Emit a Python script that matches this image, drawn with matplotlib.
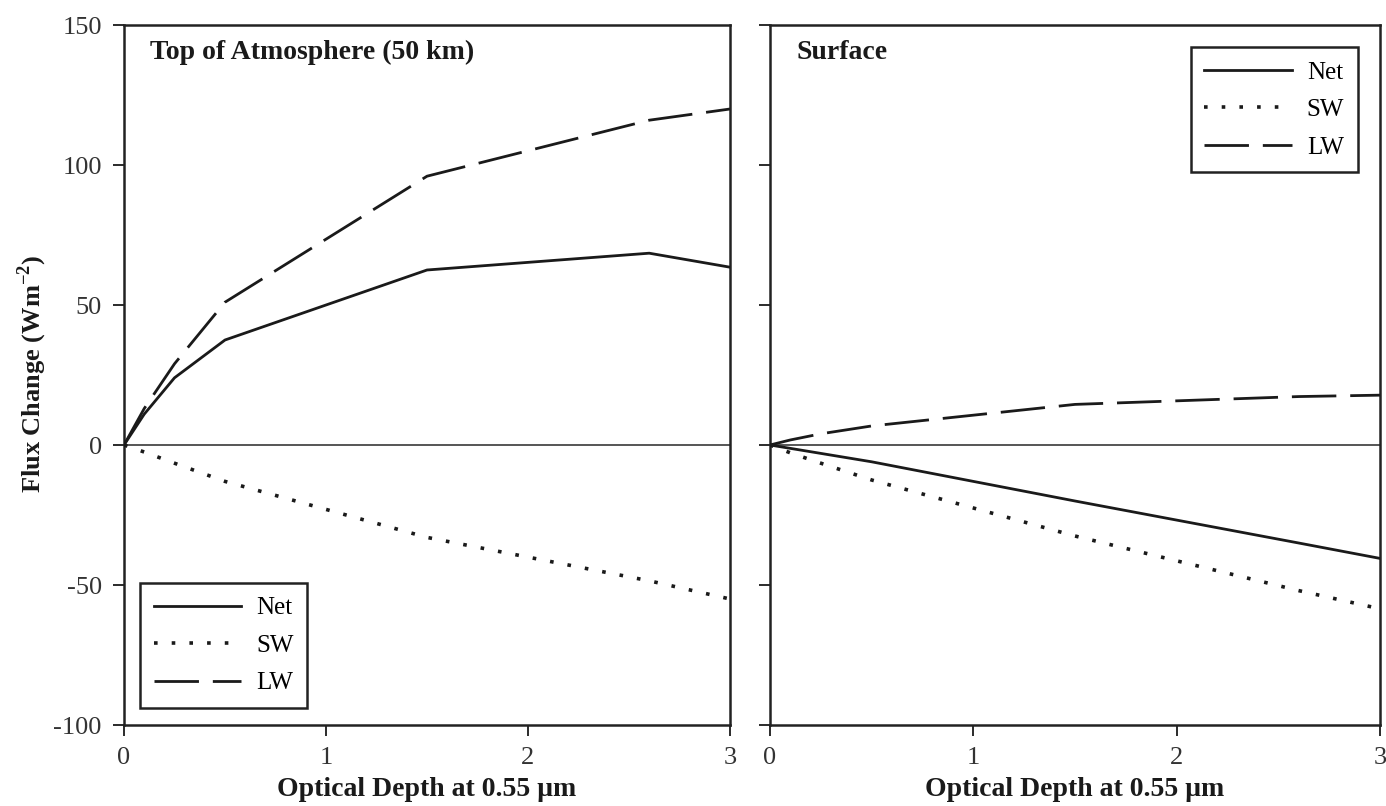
import matplotlib
matplotlib.use("Agg")
import matplotlib.pyplot as plt

plt.rcParams['font.family'] = ['Liberation Serif', 'DejaVu Serif']
plt.rcParams['mathtext.fontset'] = 'custom'
plt.rcParams['mathtext.rm'] = 'Liberation Serif:bold'
plt.rcParams['mathtext.bf'] = 'Liberation Serif:bold'
plt.rcParams['axes.unicode_minus'] = False

# Optical depth at 0.55 um
tau = [0, 0.1, 0.25, 0.5, 1.5, 2.6, 3.0]

# Top of atmosphere (50 km) flux changes (W m-2)
toa_net = [0, 11, 24, 37.5, 62.5, 68.5, 63.5]
toa_sw = [0, -2.5, -6.5, -13, -33, -48.5, -55]
toa_lw = [0, 13, 29, 51, 96, 116, 120]

# Surface flux changes (W m-2)
sfc_net = [0, -1.2, -3, -6, -20, -35, -40.5]
sfc_sw = [0, -2.8, -6.5, -12.5, -32.5, -52, -58.5]
sfc_lw = [0, 1.8, 4, 6.8, 14.5, 17.3, 17.8]

series_labels = ['Net', 'SW', 'LW']
panel_titles = ['Top of Atmosphere (50 km)', 'Surface']
xticks = [0, 1, 2, 3]
yticks = [-100, -50, 0, 50, 100, 150]

W, H = 1386, 806
fig = plt.figure(figsize=(W / 100, H / 100), dpi=100)
ink = '#1a1a1a'

ax1 = fig.add_axes([124 / W, 1 - 725 / H, 606 / W, 700 / H])
ax2 = fig.add_axes([770 / W, 1 - 725 / H, 610 / W, 700 / H])

styles = [dict(ls='-', lw=2.0),
          dict(ls=(0, (1.0, 3.9)), lw=2.6, dash_capstyle='butt'),
          dict(ls=(0, (16, 5)), lw=2.0)]

for ax, data, title, show_labels in [
        (ax1, (toa_net, toa_sw, toa_lw), panel_titles[0], True),
        (ax2, (sfc_net, sfc_sw, sfc_lw), panel_titles[1], False)]:
    ax.axhline(0, color='#555555', lw=1.4, zorder=1)
    for y, lab, st in zip(data, series_labels, styles):
        ax.plot(tau, y, color=ink, label=lab, **st, zorder=3)
    ax.set_xlim(0, 3)
    ax.set_ylim(-100, 150)
    ax.set_xticks(xticks)
    ax.set_yticks(yticks)
    ax.tick_params(direction='out', length=8, width=1.3, colors=ink,
                   labelsize=19, pad=8, labelcolor='#333333')
    if not show_labels:
        ax.set_yticklabels([])
    for s in ax.spines.values():
        s.set_linewidth(1.8)
        s.set_color('#222222')
    ax.text(0.043, 0.961, title, transform=ax.transAxes, fontsize=20,
            fontweight='bold', color=ink, va='center', ha='left')

leg_kw = dict(borderaxespad=0, fontsize=18, handlelength=3.5,
              handletextpad=0.6, labelspacing=0.6, fancybox=False,
              edgecolor='#222222', borderpad=0.55, framealpha=1)
leg1 = ax1.legend(loc='lower left', bbox_to_anchor=(0.026, 0.024), **leg_kw)
leg1.get_frame().set_linewidth(1.8)
leg2 = ax2.legend(loc='upper right', bbox_to_anchor=(0.964, 0.968), **leg_kw)
leg2.get_frame().set_linewidth(1.8)

fig.text(32 / W, 1 - 374 / H, r'Flux Change (Wm$^{-2}$)', rotation=90,
         fontsize=19, fontweight='bold', color=ink, ha='center', va='center')
for cx in (427, 1075):
    fig.text(cx / W, 1 - 790 / H, 'Optical Depth at 0.55 μm', fontsize=20,
             fontweight='bold', color=ink, ha='center', va='center')

fig.savefig('out.png', dpi=100, facecolor='white')
